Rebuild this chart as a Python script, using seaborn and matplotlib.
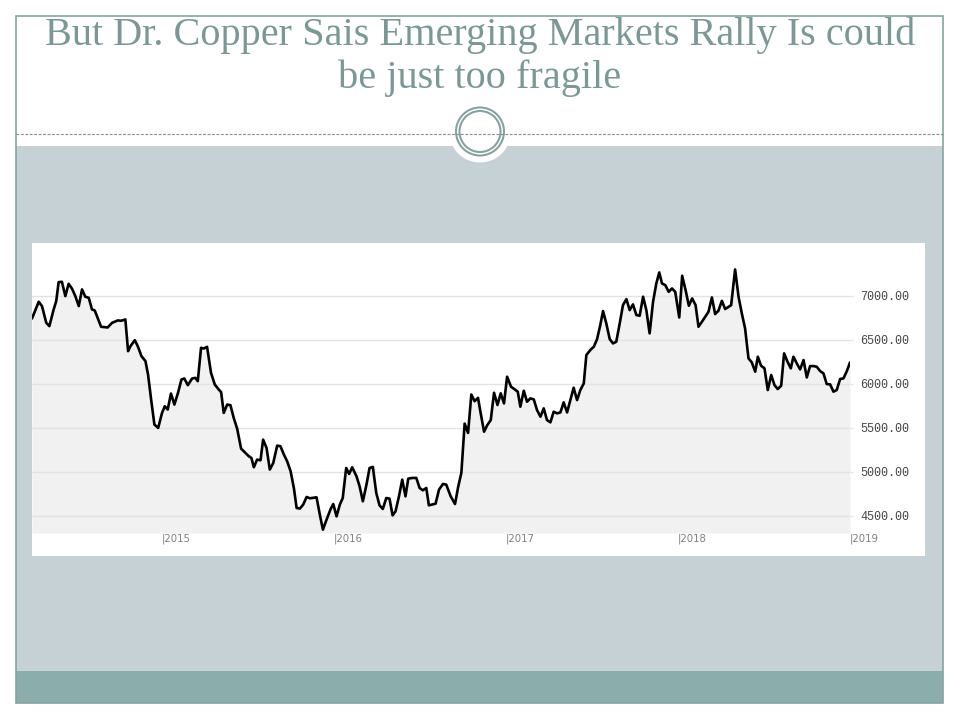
import numpy as np
import pandas as pd
import matplotlib.pyplot as plt
import seaborn as sns
from matplotlib.patches import Rectangle, Circle
from matplotlib.ticker import FuncFormatter

# copper price (USD/t); time as decimal year
years = [
    2014.243, 2014.282, 2014.301, 2014.326, 2014.344, 2014.369, 2014.384, 2014.398, 2014.417, 2014.437,
    2014.456, 2014.476, 2014.495, 2014.515, 2014.534, 2014.553, 2014.573, 2014.592, 2014.608, 2014.645,
    2014.683, 2014.709, 2014.742, 2014.761, 2014.786, 2014.802, 2014.816, 2014.841, 2014.858, 2014.880,
    2014.903, 2014.918, 2014.936, 2014.955, 2014.977, 2015.000, 2015.016, 2015.033, 2015.052, 2015.072,
    2015.093, 2015.113, 2015.130, 2015.150, 2015.175, 2015.194, 2015.208, 2015.227, 2015.243, 2015.262,
    2015.285, 2015.307, 2015.330, 2015.344, 2015.359, 2015.379, 2015.398, 2015.417, 2015.437, 2015.460,
    2015.480, 2015.505, 2015.520, 2015.534, 2015.553, 2015.573, 2015.588, 2015.608, 2015.627, 2015.647,
    2015.670, 2015.689, 2015.709, 2015.728, 2015.748, 2015.767, 2015.783, 2015.802, 2015.821, 2015.841,
    2015.860, 2015.899, 2015.918, 2015.936, 2015.957, 2015.981, 2015.996, 2016.016, 2016.035, 2016.052,
    2016.072, 2016.089, 2016.107, 2016.132, 2016.150, 2016.169, 2016.190, 2016.208, 2016.227, 2016.247,
    2016.266, 2016.285, 2016.305, 2016.324, 2016.342, 2016.359, 2016.379, 2016.398, 2016.417, 2016.433,
    2016.456, 2016.480, 2016.499, 2016.518, 2016.538, 2016.553, 2016.592, 2016.612, 2016.635, 2016.654,
    2016.680, 2016.705, 2016.724, 2016.742, 2016.761, 2016.781, 2016.800, 2016.819, 2016.839, 2016.851,
    2016.874, 2016.893, 2016.913, 2016.932, 2016.952, 2016.971, 2016.990, 2017.006, 2017.029, 2017.048,
    2017.068, 2017.083, 2017.103, 2017.122, 2017.141, 2017.161, 2017.180, 2017.200, 2017.219, 2017.238,
    2017.258, 2017.277, 2017.297, 2017.316, 2017.335, 2017.355, 2017.374, 2017.393, 2017.413, 2017.432,
    2017.452, 2017.467, 2017.490, 2017.510, 2017.529, 2017.548, 2017.564, 2017.583, 2017.603, 2017.622,
    2017.641, 2017.661, 2017.680, 2017.700, 2017.719, 2017.738, 2017.758, 2017.777, 2017.797, 2017.816,
    2017.835, 2017.855, 2017.874, 2017.891, 2017.907, 2017.926, 2017.946, 2017.965, 2017.984, 2018.008,
    2018.025, 2018.045, 2018.064, 2018.083, 2018.103, 2018.120, 2018.140, 2018.159, 2018.178, 2018.198,
    2018.217, 2018.236, 2018.256, 2018.275, 2018.295, 2018.310, 2018.333, 2018.353, 2018.372, 2018.391,
    2018.411, 2018.430, 2018.450, 2018.465, 2018.484, 2018.504, 2018.523, 2018.543, 2018.562, 2018.581,
    2018.601, 2018.618, 2018.638, 2018.657, 2018.672, 2018.692, 2018.711, 2018.731, 2018.750, 2018.769,
    2018.789, 2018.808, 2018.828, 2018.847, 2018.866, 2018.886, 2018.905, 2018.924, 2018.944, 2018.963,
    2018.983, 2019.002,
]
prices = [
    6742, 6932, 6883, 6693, 6655, 6845, 6940, 7155, 7159, 6996,
    7136, 7080, 6996, 6883, 7072, 6989, 6977, 6845, 6833, 6648,
    6640, 6693, 6720, 6716, 6731, 6371, 6428, 6496, 6428, 6314,
    6258, 6106, 5822, 5538, 5500, 5670, 5746, 5708, 5890, 5765,
    5898, 6049, 6061, 5985, 6061, 6068, 6030, 6409, 6401, 6420,
    6125, 5992, 5936, 5905, 5670, 5765, 5758, 5614, 5492, 5265,
    5227, 5178, 5159, 5053, 5140, 5133, 5367, 5273, 5027, 5102,
    5299, 5292, 5197, 5121, 5008, 4818, 4591, 4584, 4629, 4716,
    4701, 4712, 4515, 4345, 4458, 4580, 4636, 4496, 4629, 4704,
    5045, 4977, 5053, 4951, 4837, 4667, 4856, 5045, 5057, 4761,
    4621, 4580, 4704, 4697, 4507, 4553, 4723, 4913, 4723, 4924,
    4932, 4932, 4818, 4792, 4818, 4621, 4640, 4799, 4864, 4856,
    4723, 4636, 4837, 4989, 5549, 5443, 5879, 5803, 5841, 5703,
    5457, 5533, 5589, 5899, 5760, 5892, 5778, 6081, 5967, 5941,
    5911, 5741, 5922, 5797, 5835, 5824, 5703, 5627, 5722, 5589,
    5563, 5684, 5665, 5676, 5790, 5676, 5816, 5956, 5816, 5930,
    6005, 6327, 6384, 6421, 6505, 6667, 6826, 6686, 6508, 6459,
    6478, 6686, 6894, 6962, 6837, 6902, 6781, 6773, 6989, 6837,
    6573, 6932, 7140, 7265, 7140, 7121, 7045, 7083, 7045, 6754,
    7227, 7064, 6887, 6970, 6894, 6648, 6705, 6762, 6818, 6981,
    6792, 6830, 6943, 6849, 6875, 6894, 7299, 6989, 6800, 6629,
    6289, 6244, 6138, 6308, 6206, 6176, 5930, 6100, 5986, 5941,
    5979, 6346, 6251, 6176, 6308, 6232, 6164, 6270, 6073, 6202,
    6202, 6194, 6145, 6119, 5998, 5994, 5911, 5930, 6055, 6062,
    6145, 6244,
]
y_ticks = [4500, 5000, 5500, 6000, 6500, 7000]
x_years = [2015, 2016, 2017, 2018, 2019]
title_lines = ["But Dr. Copper Sais Emerging Markets Rally Is could",
               "be just too fragile"]


def to_date(y):
    base = pd.Timestamp(year=int(y), month=1, day=1)
    return base + pd.Timedelta(days=(y - int(y)) * 365.25)


df = pd.DataFrame({"date": [to_date(y) for y in years], "price": prices})

sns.set_style("white")
plt.rcParams["font.family"] = ["DejaVu Sans"]

W, H = 960, 720
fig = plt.figure(figsize=(9.6, 7.2), dpi=100)
fig.patch.set_facecolor("white")

# slide decoration in pixel coordinates
bg = fig.add_axes([0, 0, 1, 1])
bg.set_xlim(0, W)
bg.set_ylim(H, 0)
bg.axis("off")
frame = "#86a3a1"
bg.add_patch(Rectangle((16, 146), 927, 525, facecolor="#c6d1d6", edgecolor="none"))
bg.add_patch(Rectangle((16, 671), 927, 32, facecolor="#8badab", edgecolor="none"))
bg.add_patch(Rectangle((16, 16), 927, 687, facecolor="none", edgecolor=frame, lw=1.2))
bg.plot([16, 943], [134, 134], color="#7d8f8f", lw=0.8, ls=(0, (2.5, 1.5)))
bg.add_patch(Circle((480, 131.5), 31, facecolor="white", edgecolor="none"))
bg.add_patch(Circle((480, 131.5), 24, facecolor="none", edgecolor=frame, lw=1.5))
bg.add_patch(Circle((480, 131.5), 20.5, facecolor="none", edgecolor=frame, lw=1.5))
bg.add_patch(Rectangle((32, 243), 893, 313, facecolor="white", edgecolor="none"))
for line, base_y in zip(title_lines, [45, 88]):
    bg.text(480, base_y, line, ha="center", va="baseline", fontsize=29,
            family=["Liberation Serif", "DejaVu Serif"], color="#7a9996")

# chart
left, right, top, bottom = 32, 850, 243, 533
ax = fig.add_axes([left / W, 1 - bottom / H, (right - left) / W, (bottom - top) / H])
ax.set_facecolor("white")
ymin, ymax = 4307, 7599
ax.fill_between(df["date"], df["price"], ymin, color="#f1f1f1", lw=0, zorder=1)
for v in y_ticks:
    ax.axhline(v, color="#e2e2e2", lw=1, zorder=2)
sns.lineplot(data=df, x="date", y="price", ax=ax, color="black", lw=1.9, zorder=3)
ax.set_ylim(ymin, ymax)
ax.set_xlim(df["date"].iloc[0], df["date"].iloc[-1])
for s in ax.spines.values():
    s.set_visible(False)
ax.set_xlabel("")
ax.set_ylabel("")

ax.yaxis.tick_right()
ax.set_yticks(y_ticks)
ax.yaxis.set_major_formatter(FuncFormatter(lambda v, p: f"{v:.2f}"))
ax.tick_params(axis="y", length=2.5, width=1, color="#e2e2e2", pad=5,
               labelsize=8.5, labelcolor="#444444")
for lab in ax.get_yticklabels():
    lab.set_family(["Liberation Mono", "DejaVu Sans Mono"])

ax.set_xticks([pd.Timestamp(year=y, month=1, day=1) for y in x_years])
ax.set_xticklabels([f"|{y}" for y in x_years])
ax.tick_params(axis="x", length=0, pad=0.5, labelsize=7.3, labelcolor="#808080")
for lab in ax.get_xticklabels():
    lab.set_horizontalalignment("left")

fig.savefig("out.png", dpi=100)
